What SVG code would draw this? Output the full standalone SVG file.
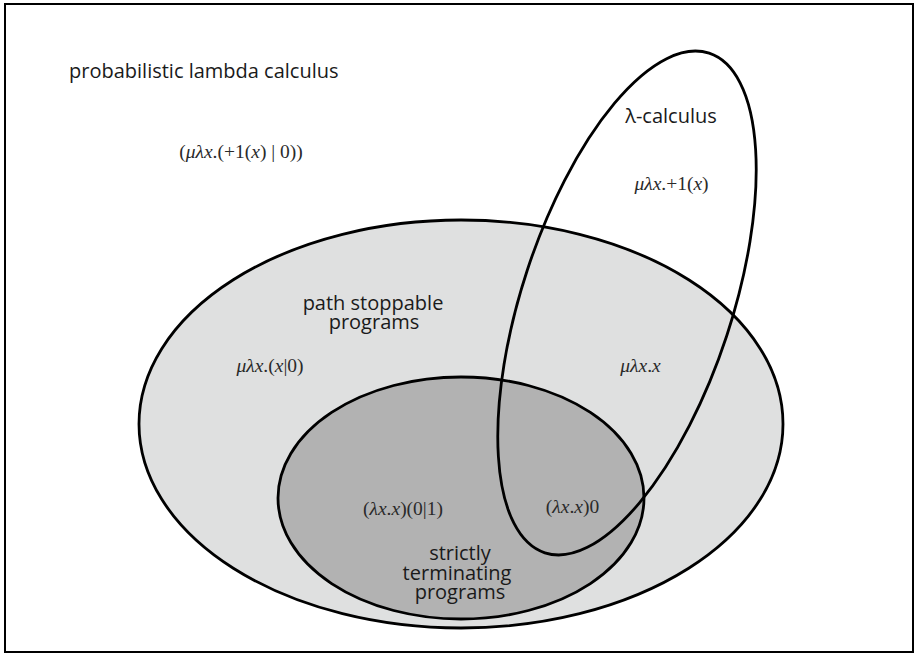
<svg xmlns="http://www.w3.org/2000/svg" width="915" height="655" viewBox="0 0 915 655">
  <style>
    .set { stroke: #000; stroke-width: 2.8; }
    .label { font-family: "Open Sans", "Liberation Sans", sans-serif; font-size: 20px; fill: #1a1a1a; }
    .math { font-family: "Liberation Serif", "Times New Roman", serif; font-size: 19.5px; fill: #2a2a2a; }
    .it { font-style: italic; }
  </style>
  <rect x="0" y="0" width="915" height="655" fill="#ffffff"/>
  <rect id="frame" x="5" y="4" width="908" height="648" fill="none" stroke="#000" stroke-width="2"/>

  <g id="probabilistic-lambda-calculus">
    <text class="label" x="69" y="78">probabilistic lambda calculus</text>
    <text class="math" x="241" y="158" text-anchor="middle">(<tspan class="it">μλx</tspan>.(+1(<tspan class="it">x</tspan>) | 0))</text>
  </g>

  <g id="path-stoppable-programs">
    <ellipse class="set" cx="461" cy="424" rx="322" ry="204" fill="#dfe0e0"/>
    <text class="label" x="373" y="310" text-anchor="middle">path stoppable</text>
    <text class="label" x="374" y="329" text-anchor="middle">programs</text>
    <text class="math" x="270" y="372" text-anchor="middle"><tspan class="it">μλx</tspan>.(<tspan class="it">x</tspan>|0)</text>
    <text class="math" x="640.5" y="372" text-anchor="middle"><tspan class="it">μλx</tspan>.<tspan class="it">x</tspan></text>
  </g>

  <g id="strictly-terminating-programs">
    <ellipse class="set" cx="461" cy="498" rx="183" ry="121" fill="#b2b2b2"/>
    <text class="label" x="460" y="560" text-anchor="middle">strictly</text>
    <text class="label" x="457" y="580" text-anchor="middle">terminating</text>
    <text class="label" x="460" y="599" text-anchor="middle">programs</text>
    <text class="math" x="403" y="515" text-anchor="middle">(<tspan class="it">λx</tspan>.<tspan class="it">x</tspan>)(0|1)</text>
    <text class="math" x="572.5" y="513" text-anchor="middle">(<tspan class="it">λx</tspan>.<tspan class="it">x</tspan>)0</text>
  </g>

  <g id="lambda-calculus">
    <ellipse class="set" cx="627" cy="303" rx="105" ry="263" fill="none" transform="rotate(18.2 627 303)"/>
    <text class="label" x="671" y="123" text-anchor="middle">λ-calculus</text>
    <text class="math" x="671.5" y="190" text-anchor="middle"><tspan class="it">μλx</tspan>.+1(<tspan class="it">x</tspan>)</text>
  </g>

  <g id="connectors"/>
</svg>
